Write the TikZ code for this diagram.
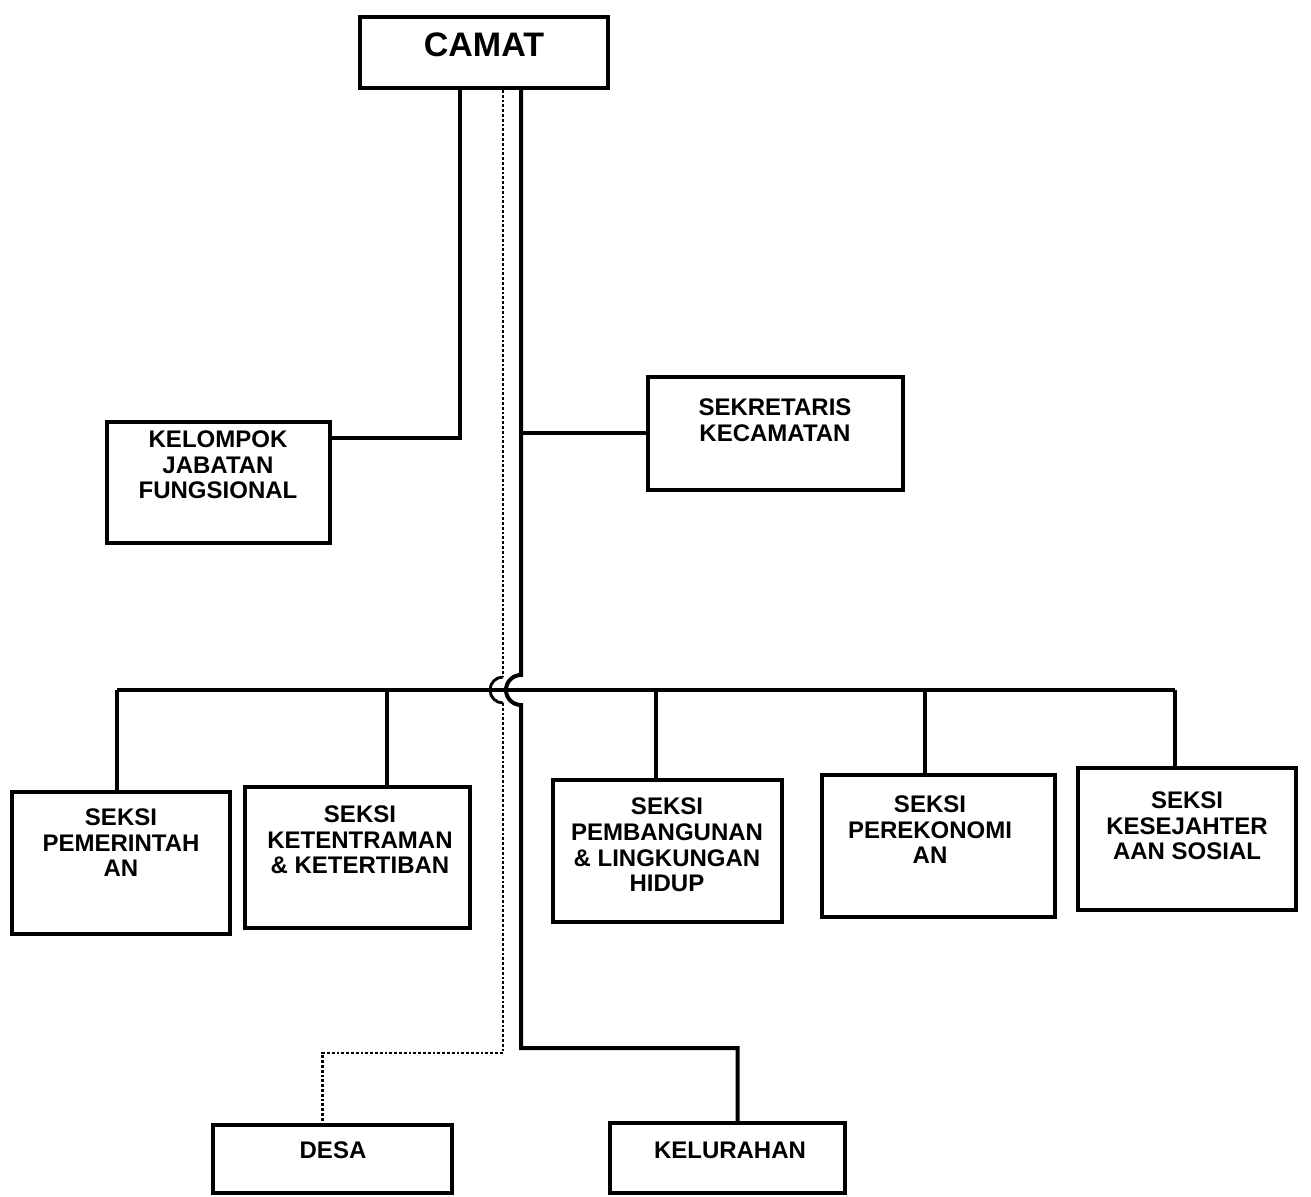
\documentclass[tikz,border=0pt]{standalone}
\usepackage{fontspec}
\setmainfont{Liberation Sans}
\begin{document}
\begin{tikzpicture}[x = 0.5pt, y = 0.5pt,
  box/.style = {draw, line width = 2pt, inner sep = 0pt},
  txt/.style = {align = center, inner sep = 0pt, font = \bfseries\fontsize{12}{12.8}\selectfont},
  conn/.style = {line width = 2pt},
  dotline/.style = {line width = 1.4pt, densely dotted},
  hop/.style = {line width = 1.4pt}]
\useasboundingbox (0, 0) rectangle (1311, 1196);

\node [box, minimum width = 124pt, minimum height = 35.5pt] (camat) at (484, 1143.5) {};
\node [txt, font = \bfseries\fontsize{17}{18}\selectfont] (camat-t) at (484, 1151) {CAMAT};

\node [box, minimum width = 111.5pt, minimum height = 60.5pt] (kelompok) at (218.5, 713.5) {};
\node [txt] (kelompok-t) at (218, 731) {KELOMPOK\\JABATAN\\FUNGSIONAL};

\node [box, minimum width = 127.5pt, minimum height = 56.5pt] (sekretaris) at (775.5, 762.5) {};
\node [txt] (sekretaris-t) at (775, 776) {SEKRETARIS\\KECAMATAN};

\node [box, minimum width = 109pt, minimum height = 71pt] (seksi1) at (121, 333) {};
\node [txt] (seksi1-t) at (121, 353) {SEKSI\\PEMERINTAH\\AN};

\node [box, minimum width = 112.5pt, minimum height = 70.5pt] (seksi2) at (357.5, 338.5) {};
\node [txt] (seksi2-t) at (360, 356) {SEKSI\\KETENTRAMAN\\\& KETERTIBAN};

\node [box, minimum width = 114.5pt, minimum height = 71pt] (seksi3) at (667.5, 345) {};
\node [txt] (seksi3-t) at (667, 351) {SEKSI\\PEMBANGUNAN\\\& LINGKUNGAN\\HIDUP};

\node [box, minimum width = 116.5pt, minimum height = 71pt] (seksi4) at (938.5, 350) {};
\node [txt] (seksi4-t) at (930, 366) {SEKSI\\PEREKONOMI\\AN};

\node [box, minimum width = 109pt, minimum height = 71pt] (seksi5) at (1187, 357) {};
\node [txt] (seksi5-t) at (1187, 370) {SEKSI\\KESEJAHTER\\AAN SOSIAL};

\node [box, minimum width = 119.5pt, minimum height = 34pt] (desa) at (332.5, 37) {};
\node [txt] (desa-t) at (333, 46) {DESA};

\node [box, minimum width = 117.5pt, minimum height = 35pt] (kelurahan) at (727.5, 38) {};
\node [txt] (kelurahan-t) at (730, 46) {KELURAHAN};

\coordinate (left-top) at ([xshift = -12pt]camat.south);
\coordinate (dot-top) at ([xshift = 9.5pt]camat.south);
\coordinate (trunk-top) at ([xshift = 18.5pt]camat.south);

\draw [conn] (left-top) |- ([yshift = -9pt]kelompok.north east);

\draw [conn] (trunk-top) -- (521, 521) arc (90:270:15) -- (521, 148) -| ([xshift = 5pt]kelurahan.north);
\draw [conn] (sekretaris.west) -- (sekretaris.west -| trunk-top);

\draw [dotline] (dot-top) -- (503, 519);
\draw [hop] (503, 519) arc (90:270:13);
\draw [dotline] (503, 493) -- (503, 143) -| ([xshift = -5pt]desa.north);

\coordinate (b1) at (117, 506);
\coordinate (b2) at (387, 506);
\coordinate (b3) at (656, 506);
\coordinate (b4) at (925, 506);
\coordinate (b5) at (1175, 506);
\draw [conn] (b1) -- (b5);
\foreach \i in {1, ..., 5}
  \draw [conn] (b\i) -- (b\i |- seksi\i.north);
\end{tikzpicture}
\end{document}
